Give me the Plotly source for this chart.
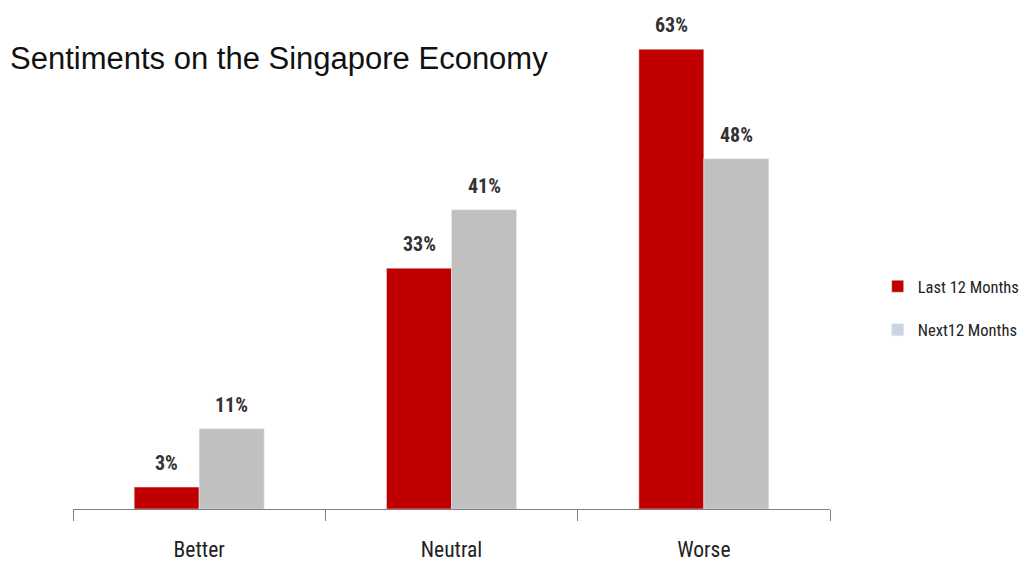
import plotly.graph_objects as go

categories = ["Better", "Neutral", "Worse"]
last_12 = [3, 33, 63]
next_12 = [11, 41, 48]
series_names = ["Last 12 Months", "Next12 Months"]
bar_colors = ["#C00000", "#C0C0C0"]
legend_colors = ["#C00000", "#C9D4E4"]

NARROW = "Liberation Sans Narrow, Roboto Condensed, Liberation Sans"

fig = go.Figure()
for name, vals, col in zip(series_names, [last_12, next_12], bar_colors):
    fig.add_trace(go.Bar(x=categories, y=vals, name=name, marker_color=col,
                         showlegend=False, hoverinfo="x+y"))

# legend-only swatches on hidden axes
for i, (name, col) in enumerate(zip(series_names, legend_colors)):
    fig.add_trace(go.Bar(x=[None], y=[None], name=name, marker_color=col,
                         xaxis="x2", yaxis="y2", legendgroup=f"g{i}", showlegend=True))

annotations = []
for vals, shift in [(last_12, -32.5), (next_12, 32.5)]:
    for c, v in zip(categories, vals):
        annotations.append(dict(x=c, y=v, xref="x", yref="y", text=f"<b>{v}%</b>",
                                showarrow=False, yanchor="bottom", xshift=shift, yshift=10,
                                font=dict(family=NARROW, size=20, color="#333333")))

fig.update_layout(
    width=1019, height=553,
    margin=dict(l=65, r=197, t=12, b=52, autoexpand=False),
    paper_bgcolor="white", plot_bgcolor="white",
    barmode="group", bargap=0.485, bargroupgap=0,
    title=dict(text="Sentiments on the Singapore Economy", x=0.002, xanchor="left",
               y=0.91, yanchor="middle",
               font=dict(family="Liberation Sans", size=31, color="#111111")),
    xaxis=dict(showline=True, linecolor="#7f7f7f", linewidth=1, ticks="outside",
               tickson="boundaries", ticklen=11, tickcolor="#7f7f7f",
               ticklabelstandoff=21,
               tickfont=dict(family=NARROW, size=21.5, color="#222222"),
               showgrid=False, zeroline=False, automargin=False),
    yaxis=dict(range=[0, 67], visible=False, showgrid=False, zeroline=False, automargin=False),
    xaxis2=dict(visible=False, overlaying="x"),
    yaxis2=dict(visible=False, overlaying="y"),
    legend=dict(x=1.063, xanchor="left", y=0.411, yanchor="middle",
                traceorder="grouped", tracegroupgap=19,
                font=dict(family=NARROW, size=16.5, color="#222222")),
    annotations=annotations,
)

fig.write_html("out.html")
